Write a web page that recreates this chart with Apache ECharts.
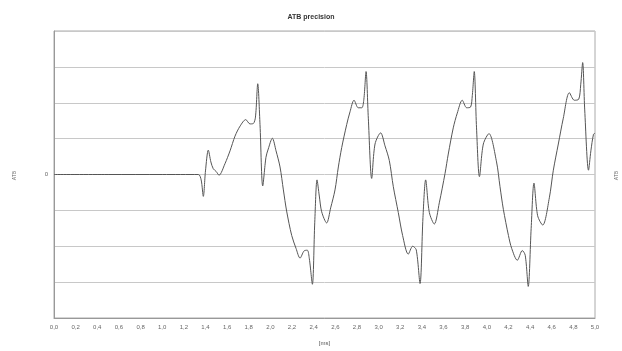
<!DOCTYPE html>
<html><head><meta charset="utf-8">
<script src="https://cdn.jsdelivr.net/npm/echarts@6/dist/echarts.min.js"></script>
<style>html,body{margin:0;padding:0;background:#fff}#c{width:622px;height:351px}</style>
</head><body><div id="c"></div>
<script>
const title = 'ATB precision';
const xName = '[ms]';
const yName = 'ATB';
const times = [0, 0.5, 1.0, 1.334, 1.36, 1.38, 1.40, 1.426, 1.45, 1.472, 1.50, 1.525, 1.58, 1.627, 1.673, 1.72, 1.772, 1.811, 1.842, 1.862, 1.883, 1.904, 1.929, 1.959, 1.98, 2.018, 2.052, 2.089, 2.12, 2.15, 2.197, 2.237, 2.274, 2.311, 2.341, 2.36, 2.388, 2.41, 2.431, 2.452, 2.474, 2.52, 2.557, 2.597, 2.628, 2.659, 2.705, 2.736, 2.773, 2.812, 2.845, 2.864, 2.884, 2.905, 2.936, 2.967, 3.019, 3.059, 3.099, 3.136, 3.182, 3.222, 3.274, 3.315, 3.348, 3.383, 3.41, 3.435, 3.469, 3.515, 3.561, 3.614, 3.644, 3.69, 3.727, 3.773, 3.814, 3.85, 3.866, 3.884, 3.905, 3.932, 3.968, 4.02, 4.09, 4.122, 4.153, 4.20, 4.23, 4.282, 4.328, 4.355, 4.383, 4.41, 4.436, 4.47, 4.517, 4.578, 4.615, 4.661, 4.707, 4.763, 4.809, 4.85, 4.868, 4.886, 4.905, 4.94, 4.962, 4.986, 5.0];
const values = [0, 0, 0, 0, -0.15, -0.61, 0.1, 0.68, 0.35, 0.16, 0.08, -0.02, 0.30, 0.66, 1.07, 1.35, 1.53, 1.41, 1.42, 1.6, 2.53, 1.39, -0.32, 0.48, 0.71, 1.01, 0.66, 0.21, -0.43, -1.02, -1.70, -2.06, -2.33, -2.13, -2.11, -2.35, -3.06, -1.33, -0.15, -0.6, -1.04, -1.35, -0.93, -0.43, 0.21, 0.75, 1.39, 1.75, 2.07, 1.86, 1.86, 2.1, 2.87, 1.57, -0.11, 0.85, 1.16, 0.80, 0.39, -0.34, -1.06, -1.70, -2.22, -2.0, -2.1, -3.04, -1.2, -0.15, -1.06, -1.38, -0.79, 0.03, 0.57, 1.30, 1.71, 2.07, 1.86, 1.88, 2.2, 2.87, 1.3, -0.06, 0.85, 1.14, 0.35, -0.34, -0.97, -1.70, -2.06, -2.39, -2.12, -2.25, -3.12, -1.5, -0.24, -1.15, -1.41, -0.65, 0.12, 0.85, 1.57, 2.28, 2.07, 2.1, 2.5, 3.12, 1.8, 0.12, 0.66, 1.12, 1.15];
const xMin = 0, xMax = 5, xStep = 0.2;
const yMin = -4, yMax = 4, yStep = 1;

const data = times.map((t, i) => [t, values[i]]);
const chart = echarts.init(document.getElementById('c'));
chart.setOption({
  animation: false,
  title: { text: title, left: 'center', top: 9, textStyle: { fontFamily: 'Liberation Sans', fontSize: 7, fontWeight: 'bold', color: '#333' } },
  grid: { left: 54, right: 27, top: 31, bottom: 27, show: true, borderColor: '#aaa', borderWidth: 1 },
  xAxis: {
    type: 'value', min: xMin, max: xMax, interval: xStep,
    name: xName, nameLocation: 'middle', nameGap: 22,
    nameTextStyle: { fontFamily: 'Liberation Sans', fontSize: 6, color: '#555' },
    axisLine: { show: true, onZero: false, lineStyle: { color: '#999' } },
    axisTick: { show: false },
    splitLine: { show: false },
    axisLabel: { fontFamily: 'Liberation Sans', fontSize: 6, color: '#666', margin: 6, formatter: v => v.toFixed(1).replace('.', ',') }
  },
  yAxis: {
    type: 'value', min: yMin, max: yMax, interval: yStep,
    axisLine: { show: true, lineStyle: { color: '#999' } },
    axisTick: { show: false },
    splitLine: { show: true, lineStyle: { color: '#c8c8c8', width: 1 } },
    axisLabel: { fontFamily: 'Liberation Sans', fontSize: 6, color: '#666', margin: 6, formatter: v => (v === 0 ? '0' : '') }
  },
  graphic: [
    { type: 'text', left: 12, top: 'middle', rotation: Math.PI / 2, style: { text: yName, fontFamily: 'Liberation Sans', fontSize: 5, fill: '#666' } },
    { type: 'text', right: 3, top: 'middle', rotation: Math.PI / 2, style: { text: yName, fontFamily: 'Liberation Sans', fontSize: 5, fill: '#666' } }
  ],
  series: [{
    type: 'line', data: data, showSymbol: false, smooth: 0.3,
    lineStyle: { color: '#555', width: 1 }
  }]
});
</script></body></html>
